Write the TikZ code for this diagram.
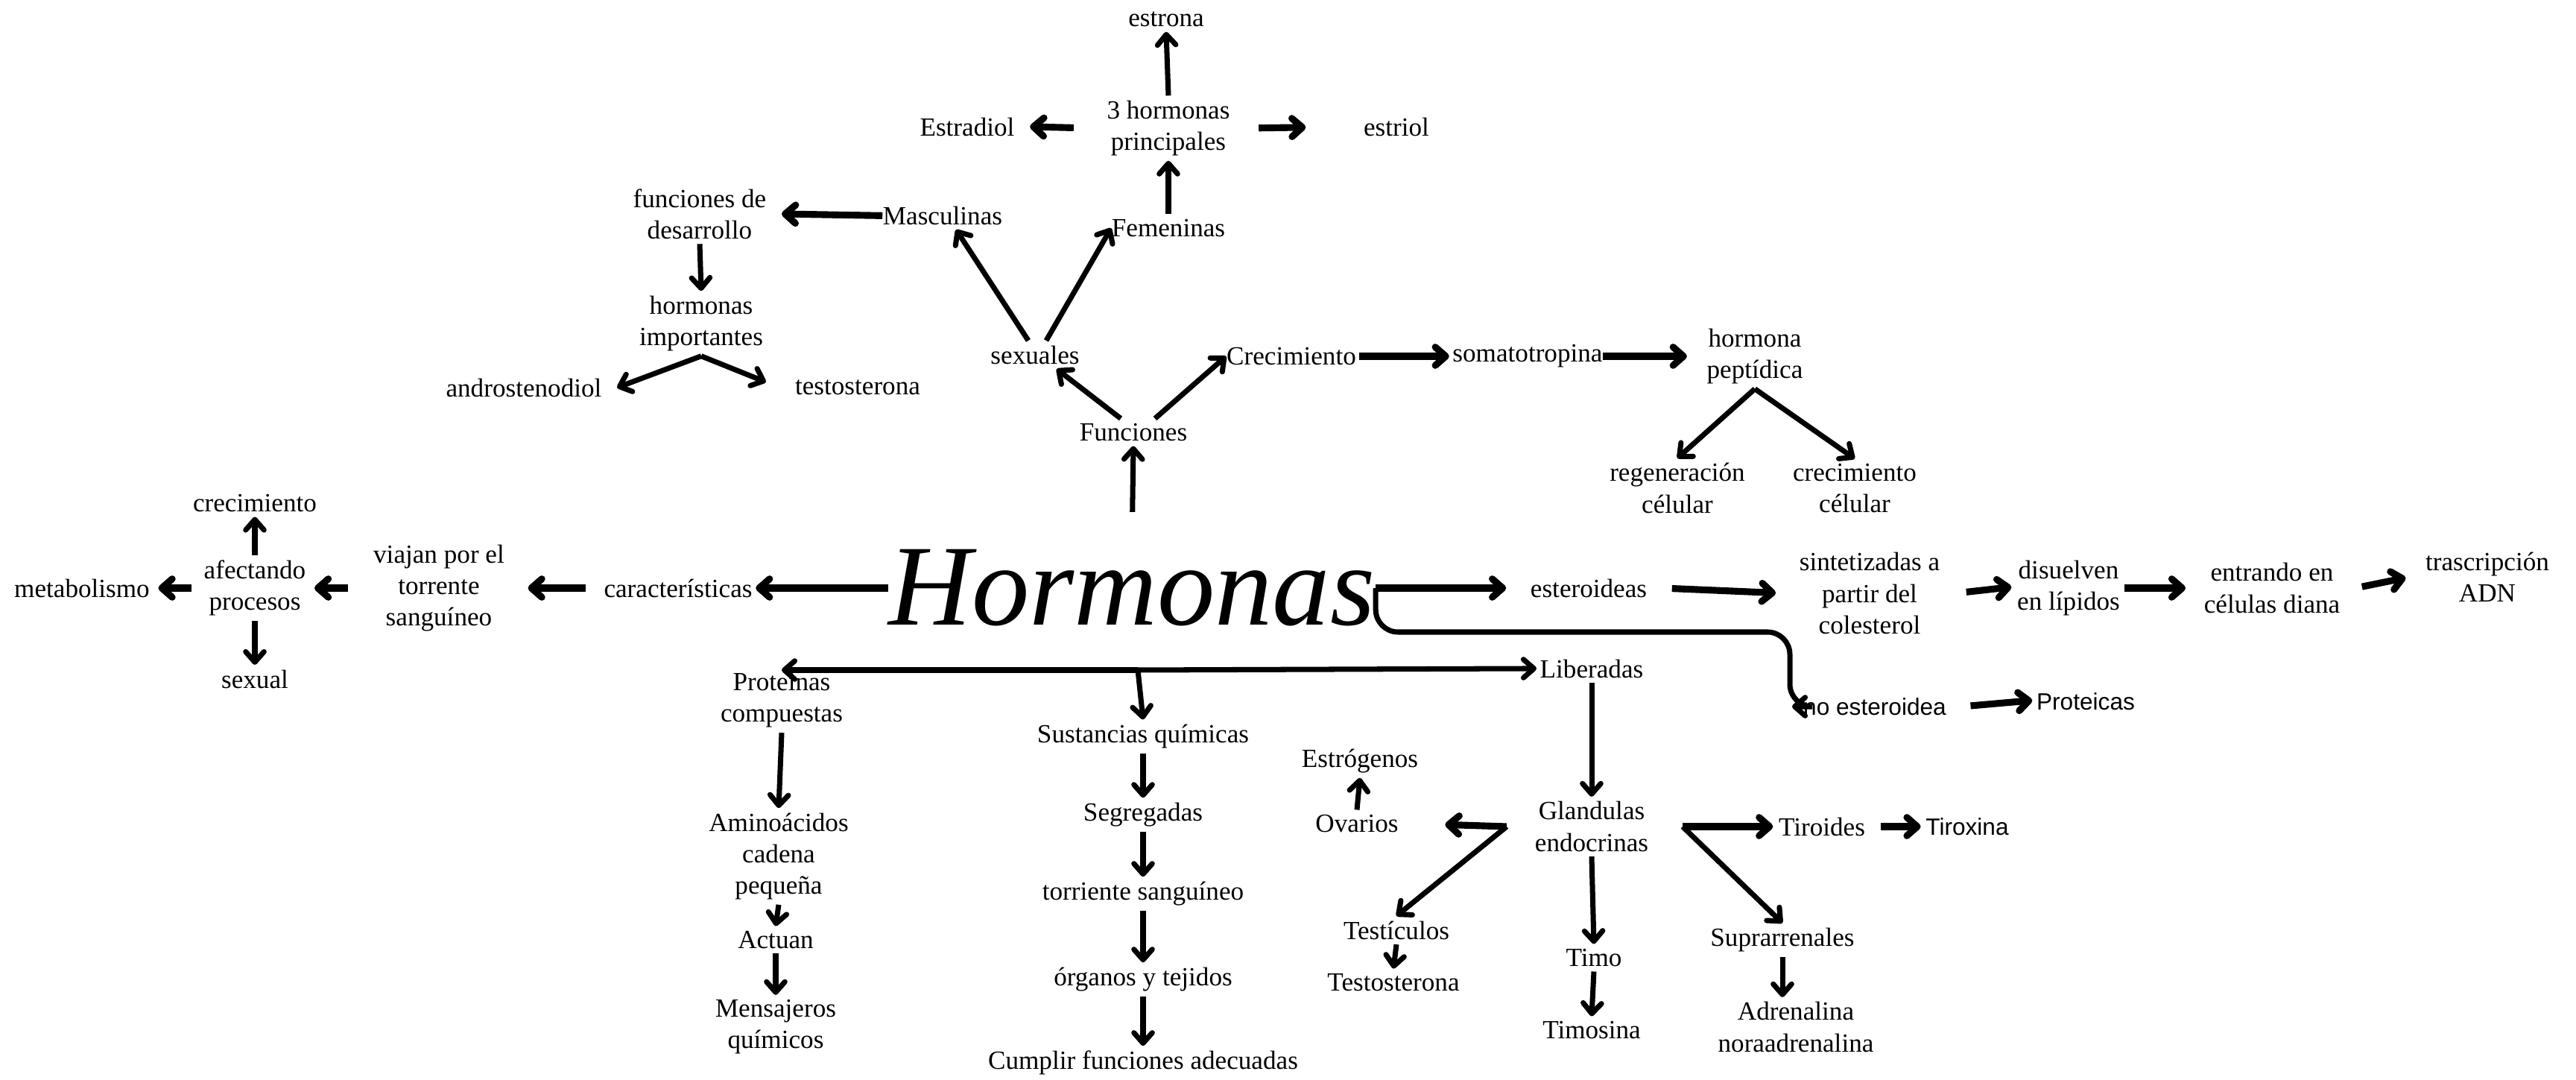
\documentclass[tikz,border=0pt]{standalone}
\usepackage{fontspec}
\setmainfont{Liberation Serif}
\newfontfamily\sanslabel{Liberation Sans}
\newfontfamily\cursiva{Liberation Serif}
\usepackage{xcolor}
\usepackage{tikz}
\usetikzlibrary{arrows.meta}
\newcommand{\letracursiva}{\cursiva\itshape\fontsize{44}{50}\selectfont}

\begin{document}
\begin{tikzpicture}[
  txt/.style={align=center,inner xsep=0.2cm,inner ysep=0.06cm,font=\fontsize{10}{12}\selectfont},
  txtsans/.style={txt,font=\sanslabel\fontsize{9}{11}\selectfont},
  titulo/.style={inner sep=0pt,font=\letracursiva},
  flecha/.style={-{Straight Barb[length=4pt,width=7pt,round]},line width=2pt},
  gruesa/.style={flecha,line width=2.6pt}]
  \useasboundingbox (0,0) rectangle (34.57,14.48);
  % --- Hormonas ---
  \node[titulo] (hormonas) at (15.19,6.59) {Hormonas};
  % --- Funciones: sexuales ---
  \node[txt] (funciones) at (15.21,8.68) {Funciones};
  \node[txt] (sexuales) at (13.89,9.72) {sexuales};
  \node[txt] (femeninas) at (15.68,11.42) {Femeninas};
  \node[txt] (tresh) at (15.68,12.76) {3 hormonas\\principales};
  \node[txt] (estrona) at (15.65,14.22) {estrona};
  \node[txt] (estradiol) at (12.98,12.78) {Estradiol};
  \node[txt] (estriol) at (18.74,12.78) {estriol};
  \node[txt] (masculinas) at (12.65,11.59) {Masculinas};
  \node[txt] (fundes) at (9.39,11.61) {funciones de\\desarrollo};
  \node[txt] (horimp) at (9.41,10.14) {hormonas\\importantes};
  \node[txt] (andros) at (7.03,9.28) {androstenodiol};
  \node[txt] (testost) at (11.51,9.28) {testosterona};
  \draw[flecha,shorten <=0.5cm] (hormonas.north) -- (funciones.south);
  \draw[flecha] ([xshift=-0.17cm]funciones.north) -- ([xshift=0.29cm]sexuales.south);
  \draw[flecha] ([xshift=-0.09cm]sexuales.north) -- ([xshift=0.18cm]masculinas.south);
  \draw[flecha] ([xshift=0.15cm]sexuales.north) -- ([xshift=0.2cm]femeninas.west);
  \draw[flecha] (femeninas.north) -- (tresh.south);
  \draw[flecha] (tresh.north) -- (estrona.south);
  \draw[gruesa,shorten <=0.24cm] (tresh.west) -- (estradiol.east);
  \draw[gruesa,shorten <=0.18cm,shorten >=0.57cm] (tresh.east) -- (estriol.west);
  \draw[gruesa,shorten <=-0.2cm] (masculinas.west) -- (fundes.east);
  \draw[flecha] (fundes.south) -- (horimp.north);
  \draw[flecha] (horimp.south) -- (andros.east);
  \draw[flecha,shorten >=0.2cm] (horimp.south) -- (testost.west);
  % --- Funciones: Crecimiento ---
  \node[txt] (crecim) at (17.33,9.70) {Crecimiento};
  \node[txt] (somato) at (20.50,9.70) {somatotropina};
  \node[txt] (hpept) at (23.55,9.70) {hormona\\peptídica};
  \node[txt] (regen) at (22.51,7.93) {regeneración\\célular};
  \node[txt] (crecel) at (24.89,7.93) {crecimiento\\célular};
  \draw[flecha] ([xshift=0.29cm]funciones.north) -- ([xshift=0.2cm]crecim.west);
  \draw[gruesa,shorten <=-0.17cm,shorten >=-0.16cm] (crecim.east) -- (somato.west);
  \draw[gruesa,shorten <=-0.2cm,shorten >=0.06cm] (somato.east) -- (hpept.west);
  \draw[flecha] (hpept.south) -- (regen.north);
  \draw[flecha] (hpept.south) -- (crecel.north);
  % --- Caracteristicas ---
  \node[txt] (caract) at (9.10,6.59) {características};
  \node[txt] (viajan) at (5.89,6.59) {viajan por el\\torrente\\sanguíneo};
  \node[txt] (afect) at (3.42,6.59) {afectando\\procesos};
  \node[txt] (crecL) at (3.42,7.73) {crecimiento};
  \node[txt] (metab) at (1.10,6.59) {metabolismo};
  \node[txt] (sexual) at (3.42,5.37) {sexual};
  \draw[gruesa,shorten >=-0.16cm] (hormonas.west) -- (caract.east);
  \draw[gruesa,shorten <=0.04cm,shorten >=0.11cm] (caract.west) -- (viajan.east);
  \draw[gruesa,shorten <=0.13cm,shorten >=-0.09cm] (viajan.west) -- (afect.east);
  \draw[gruesa,shorten <=-0.04cm,shorten >=-0.09cm] (afect.west) -- (metab.east);
  \draw[flecha] (afect.north) -- (crecL.south);
  \draw[flecha] (afect.south) -- (sexual.north);
  % --- Esteroideas ---
  \node[txt] (esteroid) at (21.32,6.59) {esteroideas};
  \node[txt] (sintet) at (25.09,6.52) {sintetizadas a\\partir del\\colesterol};
  \node[txt] (disuel) at (27.76,6.59) {disuelven\\en lípidos};
  \node[txt] (entrando) at (30.49,6.59) {entrando en\\células diana};
  \node[txt] (trascr) at (33.38,6.74) {trascripción\\ADN};
  \node[txtsans] (noester) at (25.16,5.00) {no esteroidea};
  \node[txtsans] (proteicas) at (27.99,5.07) {Proteicas};
  \coordinate (codo) at (24.02,6.00);
  \draw[gruesa,shorten >=0.12cm] (hormonas.east) -- (esteroid.west);
  \draw[gruesa,shorten <=0.13cm,shorten >=0.11cm] (esteroid.east) -- (sintet.west);
  \draw[gruesa,shorten <=0.15cm,shorten >=-0.13cm] (sintet.east) -- (disuel.west);
  \draw[gruesa,shorten <=-0.15cm,shorten >=0.04cm] (disuel.east) -- (entrando.west);
  \draw[gruesa,shorten <=0.09cm,shorten >=0.06cm] (entrando.east) -- (trascr.west);
  \draw[flecha,rounded corners=0.3cm] (hormonas.east) |- (codo) -- (codo |- noester.west) [sharp corners] -- ([xshift=0.03cm]codo |- noester.west);
  \draw[gruesa,shorten <=0.12cm,shorten >=-0.15cm] (noester.east) -- (proteicas.west);
  % --- Linea de abajo ---
  \node[txt] (protc) at (10.49,5.08) {Proteinas\\compuestas};
  \node[txt] (liberadas) at (21.36,5.51) {Liberadas};
  \node[txt] (sustq) at (15.34,4.60) {Sustancias químicas};
  \coordinate (nudo) at (15.27,5.49);
  \draw[flecha] (nudo) -- (nudo -| protc);
  \draw[flecha,shorten >=-0.16cm] (nudo) -- (liberadas.west);
  \draw[flecha] (nudo) -- (sustq.north);
  % --- Proteinas compuestas ---
  \node[txt] (amino) at (10.45,2.99) {Aminoácidos\\cadena\\pequeña};
  \node[txt] (actuan) at (10.41,1.87) {Actuan};
  \node[txt] (mensaj) at (10.41,0.70) {Mensajeros\\químicos};
  \draw[flecha] (protc.south) -- (amino.north);
  \draw[flecha] (amino.south) -- (actuan.north);
  \draw[flecha] (actuan.south) -- (mensaj.north);
  % --- Sustancias quimicas ---
  \node[txt] (segreg) at (15.34,3.55) {Segregadas};
  \node[txt] (torr) at (15.34,2.49) {torriente sanguíneo};
  \node[txt] (organos) at (15.34,1.34) {órganos y tejidos};
  \node[txt] (cumplir) at (15.34,0.22) {Cumplir funciones adecuadas};
  \draw[flecha] (sustq.south) -- (segreg.north);
  \draw[flecha] (segreg.south) -- (torr.north);
  \draw[flecha] (torr.south) -- (organos.north);
  \draw[flecha] (organos.south) -- (cumplir.north);
  % --- Glandulas endocrinas ---
  \node[txt] (glandulas) at (21.36,3.39) {Glandulas\\endocrinas};
  \node[txt] (estrog) at (18.25,4.27) {Estrógenos};
  \node[txt] (ovarios) at (18.21,3.43) {Ovarios};
  \node[txt] (testic) at (18.74,2.00) {Testículos};
  \node[txt] (testost2) at (18.70,1.30) {Testosterona};
  \node[txt] (timo) at (21.39,1.63) {Timo};
  \node[txt] (timosina) at (21.36,0.66) {Timosina};
  \node[txt] (suprarr) at (23.92,1.87) {Suprarrenales};
  \node[txt] (adrenal) at (24.10,0.70) {Adrenalina\\noraadrenalina};
  \node[txt] (tiroides) at (24.45,3.39) {Tiroides};
  \node[txtsans] (tiroxina) at (26.40,3.39) {Tiroxina};
  \coordinate (gizq) at (20.22,3.39);
  \coordinate (gder) at (22.58,3.39);
  \draw[flecha] (liberadas.south) -- (glandulas.north);
  \draw[gruesa,shorten >=0.42cm] (gizq) -- (ovarios.east);
  \draw[flecha] (gizq) -- (testic.north);
  \draw[flecha] (ovarios.north) -- (estrog.south);
  \draw[flecha] (testic.south) -- (testost2.north);
  \draw[flecha] (glandulas.south) -- (timo.north);
  \draw[flecha] (timo.south) -- (timosina.north);
  \draw[gruesa,shorten >=-0.13cm] (gder) -- (tiroides.west);
  \draw[flecha] (gder) -- (suprarr.north);
  \draw[gruesa,shorten >=-0.14cm] (tiroides.east) -- (tiroxina.west);
  \draw[flecha] (suprarr.south) -- (suprarr.south |- adrenal.north);
\end{tikzpicture}
\end{document}
